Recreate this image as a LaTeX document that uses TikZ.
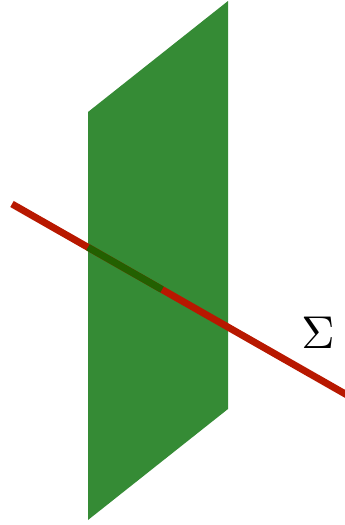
\documentclass[tikz,border=0pt]{standalone}
\usepackage{graphicx}
\usepackage{tikz}
\usetikzlibrary{calc}
\definecolor{planeGreen}{RGB}{53,139,53}
\definecolor{lineRed}{RGB}{184,24,0}
\definecolor{lineShadow}{RGB}{35,96,0}
\tikzset{
  planeFill/.style={fill=planeGreen, draw=none},
  redLine/.style={draw=lineRed, line width=7pt},
  hiddenLine/.style={draw=lineShadow, line width=7pt},
  planeLabel/.style={inner sep=0pt}
}
\begin{document}
\begin{tikzpicture}[x=1pt, y=-1pt]
  \useasboundingbox (0,0) rectangle (345,525);
  \clip (0,0) rectangle (345,525);
  % the plane
  \coordinate (pTL) at (88,112);
  \coordinate (pTR) at (228,1);
  \coordinate (pBR) at (228,409);
  \coordinate (pBL) at (88,520);
  \fill[planeFill] (pTL) -- (pTR) -- (pBR) -- (pBL) -- cycle;

  % the line through it
  \coordinate (lStart) at (12,204);
  \coordinate (lEnter) at (88,247.3);
  \coordinate (lMeet) at (162,289.5);
  \coordinate (lEnd) at (352,397.8);
  \draw[redLine] (lStart) -- (lEnd);
  \draw[hiddenLine] (lEnter) -- (lMeet);

  \node[planeLabel] (sigma) at (318,333) {\scalebox{4.6}{$\Sigma$}};
\end{tikzpicture}
\end{document}
